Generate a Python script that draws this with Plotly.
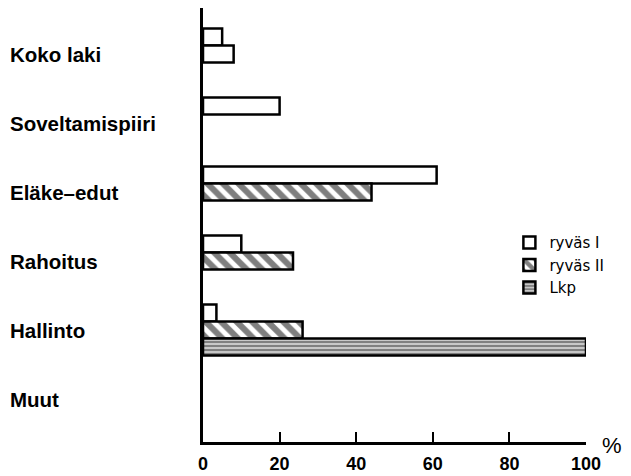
import plotly.graph_objects as go

# ---- data ----
categories = ["Koko laki", "Soveltamispiiri", "Eläke–edut", "Rahoitus", "Hallinto", "Muut"]
ryvas_1 = [5, 20, 61, 10, 3.5, None]
ryvas_2 = [8, None, 44, 23.5, 26, None]
lkp = [None, None, None, None, 100, None]
ryvas_2_hatch = ["", "\\", "\\", "\\", "\\", "\\"]   # Koko laki bar is printed unhatched
series_names = ["ryväs I", "ryväs II", "Lkp"]
x_ticks = [0, 20, 40, 60, 80, 100]

LABEL_FONT = "Liberation Sans, Arial, sans-serif"
LINE_W = 2.5

fig = go.Figure()

# ryväs I : open bars
fig.add_trace(go.Bar(
    name=series_names[0], y=categories, x=ryvas_1, orientation="h",
    marker=dict(color="white", line=dict(color="black", width=LINE_W)),
))

# ryväs II : diagonal hatch (points listed in reverse so the legend swatch is hatched)
fig.add_trace(go.Bar(
    name=series_names[1], y=categories[::-1], x=ryvas_2[::-1], orientation="h",
    marker=dict(color="white", line=dict(color="black", width=LINE_W),
                pattern=dict(shape=ryvas_2_hatch[::-1], fgcolor="black", bgcolor="white",
                             size=11, solidity=0.55)),
))

# Lkp : horizontal line hatch
fig.add_trace(go.Bar(
    name=series_names[2], y=categories, x=lkp, orientation="h",
    marker=dict(color="white", line=dict(color="black", width=LINE_W),
                pattern=dict(shape="-", fgcolor="black", bgcolor="white",
                             size=4, solidity=0.72)),
))

# category labels, left aligned at the page edge
for c in categories:
    fig.add_annotation(
        text=c, x=0, xref="paper", xanchor="left", xshift=-195,
        y=c, yref="y", yanchor="middle", showarrow=False,
        font=dict(family=LABEL_FONT, size=20.5, color="black", weight="bold"),
    )

fig.add_annotation(
    text="%", x=1, xref="paper", xanchor="center", xshift=26,
    y=0, yref="paper", yanchor="middle", yshift=-3, showarrow=False,
    font=dict(family=LABEL_FONT, size=22, color="black"),
)

fig.update_layout(
    width=631, height=476,
    margin=dict(l=203, r=45, t=8, b=34, autoexpand=False),
    paper_bgcolor="white", plot_bgcolor="white",
    barmode="group", bargap=0.261, bargroupgap=0,
    legend=dict(x=0.80, y=0.497, xanchor="left", yanchor="top",
                font=dict(family="DejaVu Sans, sans-serif", size=15, color="black"),
                bgcolor="rgba(0,0,0,0)", tracegroupgap=0, itemwidth=30),
    xaxis=dict(range=[0, 100], tickvals=x_ticks, ticktext=[str(t) for t in x_ticks],
               ticks="inside", ticklen=10, tickwidth=2, tickcolor="black",
               showline=True, linewidth=LINE_W, linecolor="black",
               showgrid=False, zeroline=False, ticklabelstandoff=4,
               tickfont=dict(family=LABEL_FONT, size=18, color="black", weight="bold")),
    yaxis=dict(type="category", categoryorder="array", categoryarray=categories,
               range=[5.623, -0.667], showline=True, linewidth=LINE_W, linecolor="black",
               showticklabels=False, ticks="", showgrid=False, zeroline=False),
)

fig.write_html("out.html", config={"displayModeBar": False},
               post_script="document.body.style.margin='0px';")
